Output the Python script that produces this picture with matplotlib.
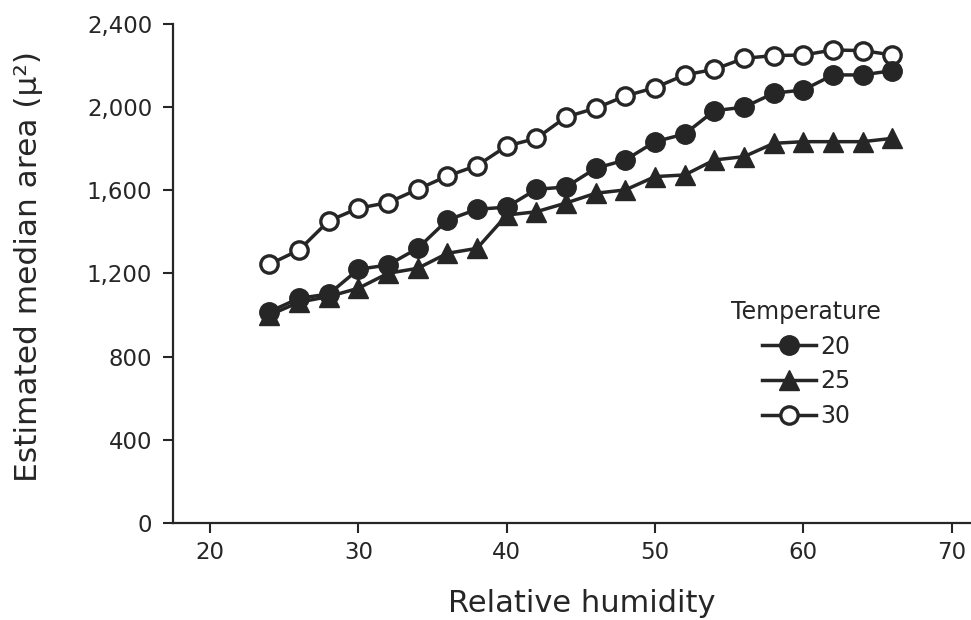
import numpy as np
import matplotlib
matplotlib.use("Agg")
import matplotlib.pyplot as plt
from matplotlib.ticker import StrMethodFormatter

plt.rcParams['font.family'] = ['DejaVu Sans']

# relative humidity values (every 2 %)
humidity = [24, 26, 28, 30, 32, 34, 36, 38, 40, 42, 44,
            46, 48, 50, 52, 54, 56, 58, 60, 62, 64, 66]

# estimated median area per temperature
area_20 = [1016, 1081, 1101, 1220, 1241, 1321, 1457, 1509, 1519, 1605, 1616,
           1706, 1746, 1834, 1871, 1983, 2000, 2067, 2083, 2155, 2155, 2176]
area_25 = [1000, 1062, 1089, 1129, 1201, 1225, 1297, 1321, 1481, 1497, 1539,
           1586, 1602, 1666, 1674, 1746, 1762, 1826, 1834, 1834, 1834, 1850]
area_30 = [1244, 1313, 1453, 1514, 1541, 1605, 1669, 1719, 1813, 1850, 1953,
           1995, 2054, 2094, 2155, 2182, 2235, 2248, 2251, 2275, 2272, 2251]

x_ticks = [20, 30, 40, 50, 60, 70]
y_ticks = [0, 400, 800, 1200, 1600, 2000, 2400]

ink = "#262626"

fig = plt.figure(figsize=(9.71, 6.2), dpi=100)
ax = fig.add_axes([0.1782, 0.1565, 0.8218, 0.8048])

ax.plot(humidity, area_30, color=ink, lw=2.5, marker="o", ms=12.5,
        mfc="white", mec=ink, mew=2.4, label="30", zorder=3)
ax.plot(humidity, area_25, color=ink, lw=2.5, marker="^", ms=14,
        mfc=ink, mec=ink, label="25", zorder=3)
ax.plot(humidity, area_20, color=ink, lw=2.5, marker="o", ms=14,
        mfc=ink, mec=ink, label="20", zorder=4)

ax.set_xlim(17.5, 71.3)
ax.set_ylim(0, 2400)
ax.set_xticks(x_ticks)
ax.set_yticks(y_ticks)
ax.yaxis.set_major_formatter(StrMethodFormatter("{x:,.0f}"))

for s in ["top", "right"]:
    ax.spines[s].set_visible(False)
for s in ["left", "bottom"]:
    ax.spines[s].set_linewidth(1.6)
    ax.spines[s].set_color(ink)

ax.tick_params(axis="both", length=7, width=1.5, color=ink,
               labelsize=16.5, labelcolor=ink)
ax.tick_params(axis="y", pad=8)
ax.tick_params(axis="x", pad=6)

ax.set_xlabel("Relative humidity", fontsize=22, color=ink)
ax.set_ylabel("Estimated median area (μ²)", fontsize=22.5, color=ink)
ax.xaxis.set_label_coords(0.5125, -0.132)
ax.yaxis.set_label_coords(-0.163, 0.514)

handles, labels = ax.get_legend_handles_labels()
order = [2, 1, 0]
leg = ax.legend([handles[i] for i in order], [labels[i] for i in order],
                title="Temperature", loc="upper left",
                bbox_to_anchor=(0.741, 0.535), bbox_transform=fig.transFigure,
                frameon=False, fontsize=17, title_fontsize=17,
                handlelength=2.3, handletextpad=0.2, labelspacing=0.45,
                borderpad=0, markerscale=1.0)
for t in leg.get_texts():
    t.set_color(ink)
leg.get_title().set_color(ink)

fig.savefig("out.png", dpi=100)
